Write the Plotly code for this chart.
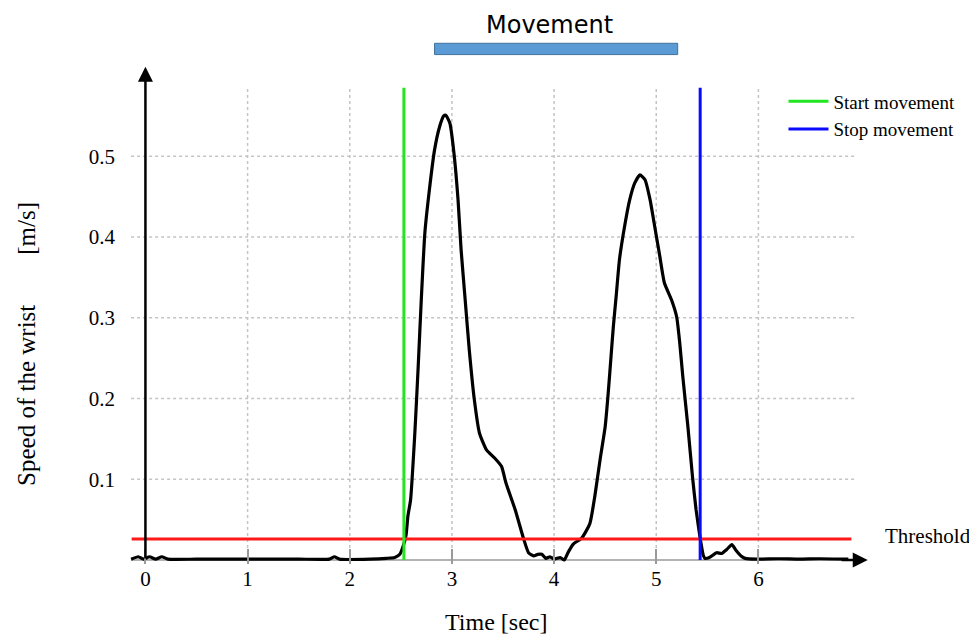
import plotly.graph_objects as go

# ---- data ----
time_s = [-0.14, -0.07, -0.02, 0.04, 0.10, 0.16, 0.22, 0.5, 1.0, 1.5, 1.8, 1.85, 1.9, 2.2,
          2.36, 2.44, 2.49, 2.52, 2.55, 2.57, 2.595, 2.637, 2.67, 2.70, 2.735, 2.78, 2.83,
          2.88, 2.92, 2.94, 2.98, 3.02, 3.06, 3.09, 3.13, 3.17, 3.22, 3.27, 3.34, 3.42,
          3.485, 3.53, 3.62, 3.70, 3.75, 3.80, 3.84, 3.88, 3.92, 3.96, 4.00, 4.06, 4.10,
          4.14, 4.19, 4.27, 4.35, 4.40, 4.45, 4.50, 4.53, 4.555, 4.58, 4.61, 4.64, 4.69,
          4.74, 4.79, 4.84, 4.89, 4.94, 4.985, 5.03, 5.08, 5.15, 5.20, 5.23, 5.26, 5.31,
          5.355, 5.39, 5.43, 5.46, 5.475, 5.52, 5.59, 5.64, 5.69, 5.74, 5.78, 5.83, 5.87,
          5.98, 6.2, 6.4, 6.6, 6.88]
speed = [0.001, 0.004, 0.001, 0.004, 0.001, 0.004, 0.001, 0.001, 0.001, 0.001, 0.001, 0.004,
         0.001, 0.001, 0.002, 0.003, 0.007, 0.016, 0.030, 0.055, 0.074, 0.157, 0.240, 0.322,
         0.405, 0.459, 0.508, 0.537, 0.550, 0.551, 0.541, 0.504, 0.446, 0.384, 0.322, 0.260,
         0.198, 0.157, 0.136, 0.126, 0.116, 0.095, 0.062, 0.027, 0.009, 0.005, 0.007, 0.007,
         0.002, 0.004, 0.001, 0.003, 0.000, 0.010, 0.020, 0.027, 0.045, 0.080, 0.124, 0.165,
         0.207, 0.248, 0.289, 0.330, 0.372, 0.413, 0.446, 0.467, 0.477, 0.471, 0.446, 0.413,
         0.380, 0.343, 0.322, 0.301, 0.269, 0.227, 0.165, 0.103, 0.062, 0.027, 0.006, 0.002,
         0.003, 0.009, 0.008, 0.013, 0.019, 0.012, 0.005, 0.002, 0.001, 0.0015, 0.001,
         0.0015, 0.001]

threshold = 0.026
start_movement = 2.53
stop_movement = 5.43
movement_bar = [2.83, 5.21]

x_ticks = [0, 1, 2, 3, 4, 5, 6]
y_ticks = [0.1, 0.2, 0.3, 0.4, 0.5]

# layout extents (not data)
grid_left, grid_right, grid_top = -0.14, 6.95, 0.585
line_left, line_right = -0.135, 6.91
y_arrow_top = 0.611
x_arrow_tip = 7.07

SERIF = "Liberation Serif, Times New Roman, serif"
NB = "\u00a0"

fig = go.Figure()

fig.add_trace(go.Scatter(x=time_s, y=speed, mode="lines",
                         line=dict(color="black", width=3.2, shape="spline", smoothing=0.5),
                         showlegend=False, hoverinfo="skip"))
fig.add_trace(go.Scatter(x=[line_left, line_right], y=[threshold, threshold], mode="lines",
                         line=dict(color="#ff1a1a", width=3), showlegend=False))
fig.add_trace(go.Scatter(x=[start_movement, start_movement], y=[0, grid_top], mode="lines",
                         line=dict(color="#22e622", width=3), name="Start movement"))
fig.add_trace(go.Scatter(x=[stop_movement, stop_movement], y=[0, grid_top], mode="lines",
                         line=dict(color="#0a0aff", width=3), name="Stop movement"))

shapes = []
for yv in y_ticks:
    shapes.append(dict(type="line", xref="x", yref="y", x0=grid_left, x1=grid_right, y0=yv, y1=yv,
                       line=dict(color="#c4c4c4", width=1.5, dash="dot"), layer="below"))
for xv in x_ticks[1:]:
    shapes.append(dict(type="line", xref="x", yref="y", x0=xv, x1=xv, y0=0, y1=grid_top,
                       line=dict(color="#c4c4c4", width=1.5, dash="dot"), layer="below"))
# x axis (grey)
shapes.append(dict(type="line", xref="x", yref="y", x0=grid_left, x1=6.9, y0=0, y1=0,
                   line=dict(color="#9a9a9a", width=1.5), layer="below"))
# movement bar
shapes.append(dict(type="rect", xref="x", yref="y", x0=movement_bar[0], x1=movement_bar[1],
                   y0=0.626, y1=0.640, fillcolor="#5b9bd5", line=dict(color="#41719c", width=1)))

annotations = [
    dict(x=0, y=y_arrow_top, ax=0, ay=0, xref="x", yref="y", axref="x", ayref="y",
         showarrow=True, arrowhead=2, arrowsize=1.2, arrowwidth=2.5, arrowcolor="black", text=""),
    dict(x=x_arrow_tip, y=0, ax=6.8, ay=0, xref="x", yref="y", axref="x", ayref="y",
         showarrow=True, arrowhead=2, arrowsize=1.2, arrowwidth=2.5, arrowcolor="black", text=""),
    dict(x=1.002, y=threshold + 0.004, xref="paper", yref="y", text="Threshold", showarrow=False,
         xanchor="left", yanchor="middle", font=dict(family=SERIF, size=21, color="black")),
    dict(x=3.96, y=0.663, xref="x", yref="y", text="Movement", showarrow=False,
         xanchor="center", yanchor="middle", font=dict(family="DejaVu Sans", size=24, color="black")),
    dict(x=0.4905, y=-0.105, xref="paper", yref="paper", text="Time [sec]", showarrow=False,
         xanchor="center", yanchor="middle", font=dict(family=SERIF, size=24, color="black")),
    dict(x=-0.1296, y=0.398, xref="paper", yref="paper", textangle=-90, showarrow=False,
         text="Speed of the wrist" + NB * 8 + "[m/s]",
         xanchor="center", yanchor="middle", font=dict(family=SERIF, size=25, color="black")),
]

fig.update_layout(
    width=969, height=628,
    margin=dict(l=117, r=96, t=3, b=72),
    paper_bgcolor="white", plot_bgcolor="white",
    shapes=shapes, annotations=annotations,
    xaxis=dict(range=[-0.2, 7.2], showgrid=False, zeroline=False, showline=False,
               tickvals=x_ticks, ticktext=[str(v) for v in x_ticks],
               ticks="inside", ticklen=15, tickwidth=1.5, tickcolor="#9a9a9a",
               tickfont=dict(family=SERIF, size=21, color="black")),
    yaxis=dict(range=[-0.005, 0.68], showgrid=False, zeroline=False, showline=False,
               tickvals=y_ticks, ticktext=[f"{v:.1f}" for v in y_ticks], ticks="",
               ticklabelstandoff=9,
               tickfont=dict(family=SERIF, size=21, color="black")),
    legend=dict(x=0.871, xanchor="left", y=0.871, yanchor="top", bgcolor="rgba(0,0,0,0)",
                itemwidth=40, font=dict(family=SERIF, size=19, color="black"),
                tracegroupgap=0),
    showlegend=True,
)

fig.write_html("out.html")
